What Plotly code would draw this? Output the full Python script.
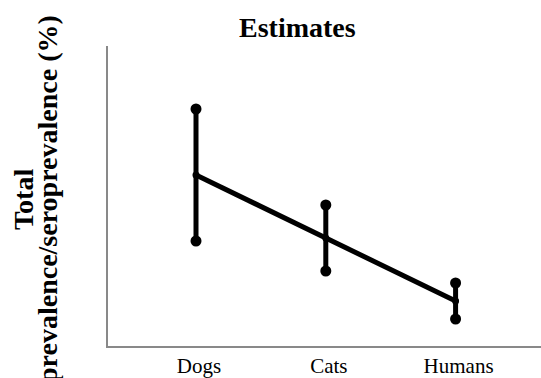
import plotly.graph_objects as go

# Point estimates with lower/upper bounds (%)
categories = ["Dogs", "Cats", "Humans"]
estimate = [57, 36, 15]
lower = [35, 25, 9]
upper = [79, 47, 21]

err_plus = [u - e for u, e in zip(upper, estimate)]
err_minus = [e - l for e, l in zip(estimate, lower)]

serif = "Liberation Serif"
axis_grey = "#898989"

fig = go.Figure()

# Trend line through the estimates, with vertical interval bars
fig.add_trace(go.Scatter(
    x=categories, y=estimate,
    mode="lines+markers",
    line=dict(color="black", width=5),
    marker=dict(color="black", size=7),
    error_y=dict(type="data", array=err_plus, arrayminus=err_minus,
                 color="black", thickness=5, width=0),
    hoverinfo="skip",
))

# Round end caps on the interval bars
fig.add_trace(go.Scatter(
    x=categories + categories, y=lower + upper,
    mode="markers",
    marker=dict(color="black", size=11),
    hoverinfo="skip",
))

fig.update_layout(
    width=541, height=378,
    margin=dict(l=108, r=0, t=46, b=32),
    paper_bgcolor="white", plot_bgcolor="white",
    showlegend=False,
    font=dict(family=serif, color="black"),
    xaxis=dict(
        type="category", range=[-0.678, 2.658],
        showline=True, linecolor=axis_grey, linewidth=2,
        showgrid=False, zeroline=False, ticks="",
        ticklabelshift=3,
        tickfont=dict(family=serif, size=21, color="black"),
    ),
    yaxis=dict(
        range=[0, 100],
        showline=True, linecolor=axis_grey, linewidth=2,
        showgrid=False, zeroline=False, ticks="",
        showticklabels=False,
    ),
    annotations=[
        dict(text="<b>Estimates</b>", xref="paper", yref="paper",
             x=(297 - 108) / 433, y=1 + (46 - 27) / 300,
             xanchor="center", yanchor="middle", showarrow=False,
             font=dict(family=serif, size=28, color="black")),
        dict(text="<b>Total</b>", xref="paper", yref="paper",
             x=(23 - 108) / 433, y=(346 - 200) / 300,
             xanchor="center", yanchor="middle", textangle=-90,
             showarrow=False,
             font=dict(family=serif, size=28, color="black")),
        dict(text="<b>prevalence/seroprevalence (%)</b>", xref="paper", yref="paper",
             x=(47 - 108) / 433, y=(346 - 199) / 300,
             xanchor="center", yanchor="middle", textangle=-90,
             showarrow=False,
             font=dict(family=serif, size=28, color="black")),
    ],
)

fig.write_html("out.html")
